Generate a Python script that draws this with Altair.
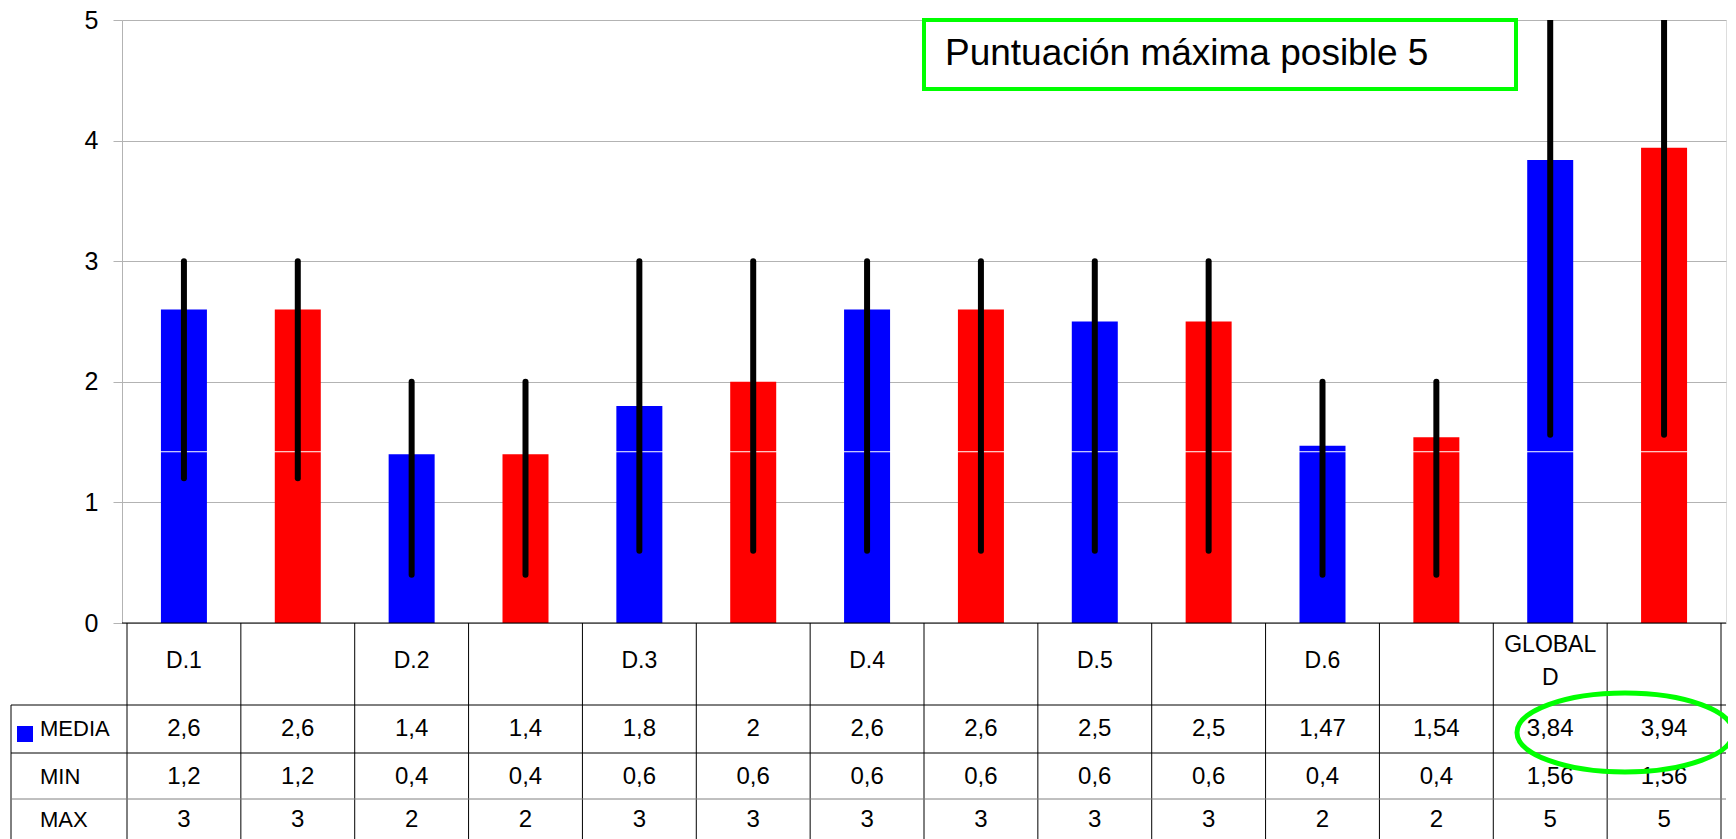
import altair as alt
import pandas as pd

# ---- data ----
headers = ["D.1", "", "D.2", "", "D.3", "", "D.4", "", "D.5", "", "D.6", "", "GLOBAL\nD", ""]
media = [2.6, 2.6, 1.4, 1.4, 1.8, 2, 2.6, 2.6, 2.5, 2.5, 1.47, 1.54, 3.84, 3.94]
mins = [1.2, 1.2, 0.4, 0.4, 0.6, 0.6, 0.6, 0.6, 0.6, 0.6, 0.4, 0.4, 1.56, 1.56]
maxs = [3, 3, 2, 2, 3, 3, 3, 3, 3, 3, 2, 2, 5, 5]
series = ["azul", "rojo"] * 7
row_labels = ["MEDIA", "MIN", "MAX"]
y_ticks = [0, 1, 2, 3, 4, 5]
note_text = "Puntuación máxima posible 5"
artifact_line = 1.42

n = len(headers)
df = pd.DataFrame({
    "col": list(range(n)),
    "header": headers,
    "media": media,
    "min": mins,
    "max": maxs,
    "series": series,
})
bounds = pd.DataFrame({"b": list(range(n + 1))})
one = pd.DataFrame({"k": [0]})

W, H = 1604, 603
FONT = "Liberation Sans"
xs = alt.Scale(domain=[0, n], nice=False, zero=False)
ys = alt.Scale(domain=[0, 5], nice=False)

base = alt.Chart(df).transform_calculate(
    xc="datum.col + 0.5",
    media_lbl="replace(toString(datum.media), '.', ',')",
    min_lbl="replace(toString(datum.min), '.', ',')",
    max_lbl="replace(toString(datum.max), '.', ',')",
    multi="indexof(datum.header, '\\n') >= 0",
)

bars = base.mark_bar(size=46).encode(
    x=alt.X("xc:Q", scale=xs, axis=None),
    y=alt.Y("media:Q", scale=ys,
            axis=alt.Axis(values=y_ticks, format="d", title=None, grid=True, gridColor="#b3b3b3",
                          domainColor="#b3b3b3", tickColor="#b3b3b3", tickSize=9,
                          labelFontSize=25, labelFont=FONT, labelColor="black",
                          labelPadding=15)),
    color=alt.Color("series:N", scale=alt.Scale(domain=["azul", "rojo"], range=["#0000ff", "#ff0000"]),
                    legend=None),
)

white = alt.Chart(one).mark_rule(color="white", strokeWidth=1).encode(
    y=alt.datum(artifact_line, scale=ys), x=alt.value(2), x2=alt.value(W - 2)
)

err = base.mark_rule(color="black", strokeWidth=6, strokeCap="round", clip=True).encode(
    x=alt.X("xc:Q", scale=xs), y=alt.Y("min:Q", scale=ys), y2="max:Q"
)

# table lines
vlines = alt.Chart(bounds).mark_rule(color="black", strokeWidth=1).encode(
    x=alt.X("b:Q", scale=xs), y=alt.value(H), y2=alt.value(H + 230)
)
left_line = alt.Chart(one).mark_rule(color="black", strokeWidth=1).encode(
    x=alt.value(-111), y=alt.value(685), y2=alt.value(H + 230)
)
baseline = alt.Chart(one).mark_rule(color="black", strokeWidth=1).encode(
    x=alt.value(0), x2=alt.value(W), y=alt.value(H)
)
hl1 = alt.Chart(one).mark_rule(color="black", strokeWidth=1).encode(
    x=alt.value(-111), x2=alt.value(W), y=alt.value(685)
)
hl2 = alt.Chart(one).mark_rule(color="black", strokeWidth=1).encode(
    x=alt.value(-111), x2=alt.value(W), y=alt.value(733)
)
hl3 = alt.Chart(one).mark_rule(color="#808080", strokeWidth=1).encode(
    x=alt.value(-111), x2=alt.value(W), y=alt.value(779)
)

# table texts
hdr1 = base.transform_filter("!datum.multi").mark_text(
    fontSize=23, font=FONT, baseline="middle", color="black").encode(
    x=alt.X("xc:Q", scale=xs), y=alt.value(641), text="header:N"
)
hdr2 = base.transform_filter("datum.multi").mark_text(
    fontSize=23, font=FONT, lineBreak="\n", lineHeight=33,
    baseline="middle", color="black").encode(
    x=alt.X("xc:Q", scale=xs), y=alt.value(624.5), text="header:N"
)
tm = base.mark_text(fontSize=24, font=FONT, baseline="middle", color="black").encode(
    x=alt.X("xc:Q", scale=xs), y=alt.value(709), text="media_lbl:N"
)
tmin = base.mark_text(fontSize=24, font=FONT, baseline="middle", color="black").encode(
    x=alt.X("xc:Q", scale=xs), y=alt.value(757), text="min_lbl:N"
)
tmax = base.mark_text(fontSize=24, font=FONT, baseline="middle", color="black").encode(
    x=alt.X("xc:Q", scale=xs), y=alt.value(800), text="max_lbl:N"
)
rl_df = pd.DataFrame({"lab": row_labels, "pos": [709, 757, 800]})
rlabels = alt.Chart(rl_df).mark_text(fontSize=22, font=FONT, align="left", baseline="middle",
                                     color="black").encode(
    x=alt.value(-82), y=alt.Y("pos:Q", scale=None), text="lab:N"
)
key = alt.Chart(one).mark_square(size=256, color="#0000ff", opacity=1).encode(
    x=alt.value(-97), y=alt.value(714)
)

# annotations
box = alt.Chart(one).mark_rect(fill="white", stroke="#00ff00", strokeWidth=4).encode(
    x=alt.value(802), x2=alt.value(1394), y=alt.value(0), y2=alt.value(69)
)
note = alt.Chart(pd.DataFrame({"t": [note_text]})).mark_text(
    fontSize=37, font=FONT, align="left", baseline="alphabetic", color="black"
).encode(x=alt.value(823), y=alt.value(45), text="t:N")

k = 0.5523 * 0.366
ell_path = (f"M -1 0 C -1 {-k} -0.5523 -0.366 0 -0.366 C 0.5523 -0.366 1 {-k} 1 0 "
            f"C 1 {k} 0.5523 0.366 0 0.366 C -0.5523 0.366 -1 {k} -1 0 Z")
ellipse = alt.Chart(one).mark_point(shape=ell_path, size=216 * 216, filled=False,
                                    stroke="#00ff00", strokeWidth=5, opacity=1).encode(
    x=alt.value(1503), y=alt.value(712.5)
)

chart = alt.layer(
    bars, white, err, vlines, left_line, baseline, hl1, hl2, hl3,
    hdr1, hdr2, tm, tmin, tmax, rlabels, key, box, note, ellipse
).properties(
    width=W, height=H,
    autosize=alt.AutoSizeParams(type="none"),
    padding={"left": 114, "top": 12, "right": 2, "bottom": 216},
).configure_view(stroke=None).configure(background="white")

chart.save("out.html", embed_options={"renderer": "svg", "actions": False})
